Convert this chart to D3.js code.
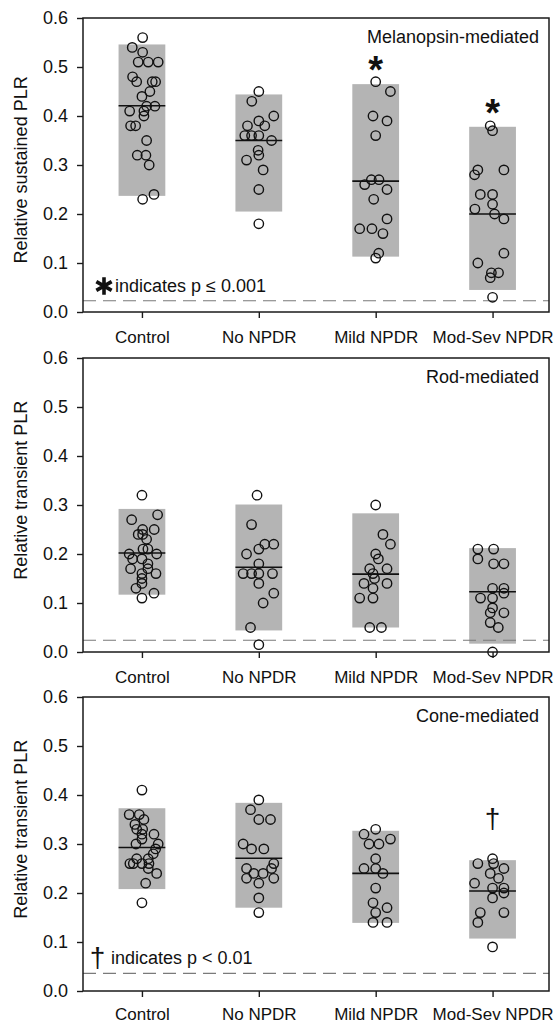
<!DOCTYPE html>
<html>
<head>
<meta charset="utf-8">
<script src="https://cdn.jsdelivr.net/npm/d3@7"></script>
<style>
    body { margin: 0; background: #fff; }
    svg { display: block; font-family: "Liberation Sans", Arial, sans-serif; }
</style>
</head>
<body>
<div id="chart"></div>
<script>
// groups on the x axis
const groups = ["Control", "No NPDR", "Mild NPDR", "Mod-Sev NPDR"];
const yTicks = [0, 0.1, 0.2, 0.3, 0.4, 0.5, 0.6];

// each point is [value, horizontal jitter in group units]
const melControl = [[0.56, 0.006], [0.54, -0.083], [0.53, 0.006], [0.51, -0.032], [0.51, 0.054], [0.51, 0.139],
    [0.48, -0.08], [0.47, -0.045], [0.47, 0.088], [0.47, 0.117], [0.45, 0.068], [0.44, 0], [0.42, 0.04],
    [0.42, 0.111], [0.41, -0.105], [0.41, 0.017], [0.40, 0.017], [0.38, -0.097], [0.38, -0.054], [0.35, 0.04],
    [0.32, -0.04], [0.32, 0.034], [0.30, 0.062], [0.24, 0.103], [0.23, 0.006]];
const melNo = [[0.45, 0], [0.43, -0.06], [0.40, 0.128], [0.39, 0], [0.38, -0.097], [0.38, 0.051], [0.36, -0.12],
    [0.36, -0.062], [0.36, 0], [0.35, 0.109], [0.33, -0.006], [0.32, 0], [0.31, -0.105], [0.29, 0.037],
    [0.25, 0], [0.18, 0]];
const melMild = [[0.47, 0], [0.45, 0.126], [0.40, -0.023], [0.39, 0.097], [0.36, 0], [0.27, -0.037],
    [0.27, 0.028], [0.26, -0.094], [0.25, 0.097], [0.23, -0.017], [0.19, 0.097], [0.17, -0.137], [0.17, -0.032],
    [0.16, 0.062], [0.12, 0.026], [0.11, 0]];
const melModSev = [[0.38, -0.02], [0.37, 0], [0.29, -0.126], [0.29, 0.097], [0.28, -0.154], [0.24, -0.105],
    [0.24, 0], [0.22, 0], [0.21, -0.151], [0.20, 0.017], [0.19, 0.097], [0.12, 0.097], [0.10, -0.126],
    [0.08, 0.051], [0.08, -0.01], [0.07, -0.02], [0.03, 0]];

const rodControl = [[0.32, 0], [0.28, 0.134], [0.27, -0.088], [0.25, 0.006], [0.25, 0.105], [0.24, -0.032],
    [0.24, 0.006], [0.23, 0.04], [0.21, 0.009], [0.21, 0.051], [0.20, -0.109], [0.20, 0.126], [0.19, -0.08],
    [0.19, 0], [0.18, 0.051], [0.17, -0.097], [0.17, 0.051], [0.16, 0], [0.16, 0.12], [0.15, 0], [0.14, 0],
    [0.13, -0.051], [0.12, 0.103], [0.11, 0]];
const rodNo = [[0.32, -0.015], [0.26, -0.062], [0.22, 0.051], [0.22, 0.128], [0.21, 0], [0.20, -0.105],
    [0.18, 0], [0.16, -0.134], [0.16, -0.062], [0.16, 0], [0.16, 0.117], [0.14, 0], [0.12, 0.128],
    [0.10, 0.037], [0.05, -0.071], [0.015, 0]];
const rodMild = [[0.30, 0], [0.24, 0.062], [0.22, 0.126], [0.20, 0], [0.19, 0.023], [0.17, -0.051],
    [0.17, 0.097], [0.16, -0.023], [0.15, -0.01], [0.14, -0.1], [0.14, 0.097], [0.13, -0.023], [0.11, -0.137],
    [0.11, -0.023], [0.05, -0.051], [0.05, 0.049]];
const rodModSev = [[0.21, -0.126], [0.21, 0.009], [0.19, -0.126], [0.18, 0.009], [0.18, 0.097], [0.13, 0],
    [0.13, 0.097], [0.12, 0.097], [0.11, -0.103], [0.11, 0], [0.09, 0], [0.08, 0.097], [0.08, -0.02],
    [0.06, -0.02], [0.05, 0.049], [0.00, 0]];

const coneControl = [[0.41, 0], [0.36, -0.109], [0.36, -0.023], [0.35, 0.017], [0.34, -0.06], [0.33, -0.045],
    [0.33, 0.006], [0.32, 0], [0.32, 0.103], [0.31, 0], [0.30, -0.051], [0.30, 0.139], [0.29, 0.117],
    [0.28, 0.097], [0.27, -0.045], [0.27, 0.054], [0.26, -0.103], [0.26, -0.074], [0.26, 0], [0.26, 0.06],
    [0.25, 0.054], [0.24, 0.126], [0.22, 0.032], [0.18, 0]];
const coneNo = [[0.39, 0], [0.37, -0.071], [0.35, 0], [0.35, 0.1], [0.30, -0.134], [0.29, -0.062],
    [0.29, 0.043], [0.26, 0.128], [0.25, -0.105], [0.25, 0.109], [0.24, -0.043], [0.24, 0.037], [0.23, -0.105],
    [0.23, 0.128], [0.22, 0], [0.19, 0], [0.16, 0]];
const coneMild = [[0.33, 0], [0.32, -0.1], [0.31, 0.126], [0.30, -0.057], [0.30, 0.028], [0.27, 0],
    [0.25, -0.1], [0.25, 0], [0.24, 0.062], [0.21, 0], [0.18, -0.023], [0.17, 0.097], [0.16, 0],
    [0.14, -0.023], [0.14, 0.097]];
const coneModSev = [[0.27, 0], [0.26, -0.126], [0.26, 0.009], [0.25, 0.097], [0.24, -0.02], [0.23, 0.051],
    [0.22, -0.154], [0.21, 0], [0.21, 0.097], [0.20, 0.097], [0.19, 0], [0.16, -0.105], [0.16, 0.097],
    [0.14, -0.126], [0.09, 0]];

// shaded range [low, high] and median line per group
const melBoxes = [[0.237, 0.546, 0.421], [0.205, 0.444, 0.35], [0.113, 0.465, 0.267], [0.045, 0.378, 0.20]];
const rodBoxes = [[0.117, 0.292, 0.202], [0.044, 0.301, 0.173], [0.05, 0.283, 0.159], [0.017, 0.212, 0.123]];
const coneBoxes = [[0.208, 0.373, 0.293], [0.17, 0.384, 0.271], [0.139, 0.327, 0.24], [0.107, 0.267, 0.204]];

// dashed reference level per panel
const refLevels = [0.023, 0.024, 0.036];

const panels = [
    { title: "Melanopsin-mediated", yLabel: "Relative sustained PLR", labelAt: 0.29,
      points: [melControl, melNo, melMild, melModSev], boxes: melBoxes,
      marks: ["", "", "star", "star"], legend: { symbol: "star", text: "indicates p \u2264 0.001" } },
    { title: "Rod-mediated", yLabel: "Relative transient PLR", labelAt: 0.33,
      points: [rodControl, rodNo, rodMild, rodModSev], boxes: rodBoxes,
      marks: ["", "", "", ""], legend: null },
    { title: "Cone-mediated", yLabel: "Relative transient PLR", labelAt: 0.33,
      points: [coneControl, coneNo, coneMild, coneModSev], boxes: coneBoxes,
      marks: ["", "", "", "dagger"], legend: { symbol: "dagger", text: "indicates p < 0.01" } }
];

const W = 557, H = 1025;
const left = 83, right = 549;
const panelTops = [18, 358, 697];
const panelH = 294;
const boxHalf = 0.2;
const fontSize = "18px";

const svg = d3.select("#chart").append("svg")
    .attr("width", W)
    .attr("height", H);

const x = d3.scaleLinear()
    .domain([0.5, 4.5])
    .range([left + 0.5, right + 2]);

panels.forEach((p, pi) => {
    const top = panelTops[pi];
    const bottom = top + panelH;
    const y = d3.scaleLinear().domain([0, 0.6]).range([bottom, top]);
    const g = svg.append("g");

    // shaded ranges
    g.selectAll(".box")
        .data(p.boxes)
        .enter()
        .append("rect")
        .attr("x", (d, i) => x(i + 1 - boxHalf))
        .attr("width", (d, i) => x(i + 1 + boxHalf) - x(i + 1 - boxHalf))
        .attr("y", d => y(d[1]))
        .attr("height", d => y(d[0]) - y(d[1]))
        .attr("fill", "#b4b4b4");

    // dashed reference
    g.append("line")
        .attr("x1", left)
        .attr("x2", right)
        .attr("y1", y(refLevels[pi]))
        .attr("y2", y(refLevels[pi]))
        .attr("stroke", "#7a7a7a")
        .attr("stroke-width", 1.2)
        .attr("stroke-dasharray", "13,7");

    // median lines
    g.selectAll(".med")
        .data(p.boxes)
        .enter()
        .append("line")
        .attr("x1", (d, i) => x(i + 1 - boxHalf))
        .attr("x2", (d, i) => x(i + 1 + boxHalf))
        .attr("y1", d => y(d[2]))
        .attr("y2", d => y(d[2]))
        .attr("stroke", "#111")
        .attr("stroke-width", 1.6);

    // points
    p.points.forEach((pts, gi) => {
        g.selectAll(null)
            .data(pts)
            .enter()
            .append("circle")
            .attr("cx", d => x(gi + 1 + d[1]))
            .attr("cy", d => y(d[0]))
            .attr("r", 4.7)
            .attr("fill", "none")
            .attr("stroke", "#111")
            .attr("stroke-width", 1.4);
    });

    // significance marks above boxes
    p.marks.forEach((m, gi) => {
        if (!m) return;
        const cx = x(gi + 1);
        const topY = y(p.boxes[gi][1]);
        if (m === "star") {
            g.append("text")
                .attr("x", cx)
                .attr("y", topY - 1)
                .attr("text-anchor", "middle")
                .style("font-size", "38px")
                .style("font-weight", "bold")
                .attr("fill", "#111")
                .text("*");
        } else {
            g.append("text")
                .attr("x", cx)
                .attr("y", topY - 32)
                .attr("text-anchor", "middle")
                .style("font-size", "28px")
                .attr("fill", "#111")
                .text("\u2020");
        }
    });

    // legend note
    if (p.legend) {
        if (p.legend.symbol === "star") {
            g.append("path")
                .attr("d", d3.symbol(d3.symbolAsterisk, 220)())
                .attr("transform", `translate(104,${bottom - 26})`)
                .attr("stroke", "#111")
                .attr("stroke-width", 3.6)
                .attr("fill", "none");
            g.append("text")
                .attr("x", 115)
                .attr("y", bottom - 20)
                .style("font-size", fontSize)
                .attr("fill", "#111")
                .text(p.legend.text);
        } else {
            g.append("text")
                .attr("x", 97.5)
                .attr("y", bottom - 24)
                .attr("text-anchor", "middle")
                .style("font-size", "28px")
                .attr("fill", "#111")
                .text("\u2020");
            g.append("text")
                .attr("x", 111)
                .attr("y", bottom - 27)
                .style("font-size", fontSize)
                .attr("fill", "#111")
                .text(p.legend.text);
        }
    }

    // frame
    g.append("rect")
        .attr("x", left)
        .attr("y", top)
        .attr("width", right - left)
        .attr("height", panelH)
        .attr("fill", "none")
        .attr("stroke", "#1a1a1a")
        .attr("stroke-width", 1.5);

    // y axis
    const yAxis = g.append("g")
        .attr("transform", `translate(${left},0)`)
        .call(d3.axisLeft(y)
            .tickValues(yTicks)
            .tickSize(6)
            .tickPadding(9)
            .tickFormat(d3.format(".1f")));
    yAxis.select(".domain").remove();
    yAxis.selectAll("line").attr("stroke", "#1a1a1a").attr("stroke-width", 1.4);
    yAxis.selectAll("text")
        .style("font-size", fontSize)
        .style("font-family", "'Liberation Sans', Arial, sans-serif")
        .attr("fill", "#111");

    // x axis
    const xAxis = g.append("g")
        .attr("transform", `translate(0,${bottom})`)
        .call(d3.axisBottom(x)
            .tickValues([1, 2, 3, 4])
            .tickSize(6)
            .tickPadding(pi === 2 ? 11 : 13)
            .tickFormat(d => groups[d - 1]));
    xAxis.select(".domain").remove();
    xAxis.selectAll("line").attr("stroke", "#1a1a1a").attr("stroke-width", 1.4);
    xAxis.selectAll("text")
        .style("font-size", "17px")
        .style("font-family", "'Liberation Sans', Arial, sans-serif")
        .attr("fill", "#111");

    // panel title
    g.append("text")
        .attr("x", right - 10)
        .attr("y", top + 25)
        .attr("text-anchor", "end")
        .style("font-size", fontSize)
        .attr("fill", "#111")
        .text(p.title);

    // y label
    g.append("text")
        .attr("transform", `translate(27,${y(p.labelAt)}) rotate(-90)`)
        .attr("text-anchor", "middle")
        .style("font-size", fontSize)
        .attr("fill", "#111")
        .text(p.yLabel);
});
</script>
</body>
</html>
